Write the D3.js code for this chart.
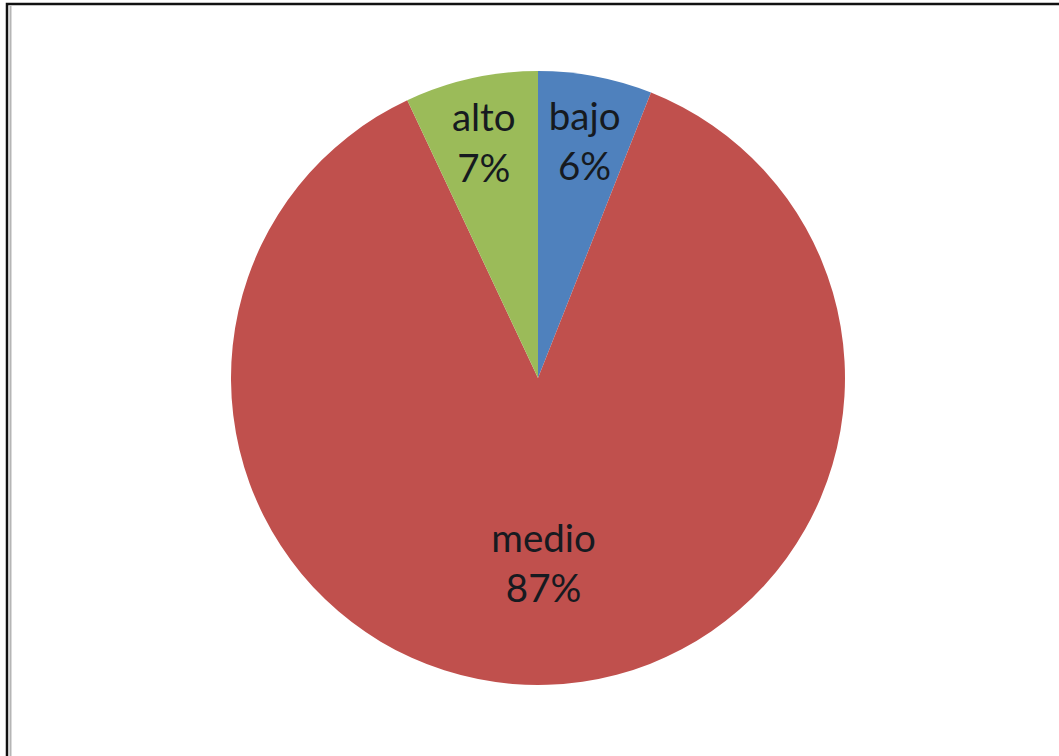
<!DOCTYPE html>
<html>
<head>
<meta charset="utf-8">
<script src="https://cdn.jsdelivr.net/npm/d3@7"></script>
<style>
  html, body { margin: 0; padding: 0; background: #fff; }
  svg { display: block; }
</style>
</head>
<body>
<svg id="chart" width="1059" height="756"></svg>
<script>
// Share of cases by level (percent)
const categories = ["bajo", "medio", "alto"];
const values = [6, 87, 7];
const colors = ["#4F81BD", "#C0504D", "#9BBB59"];
// how far out each label sits, as a fraction of the radius
const labelRadius = [0.81, 0.58, 0.81];

const width = 1059, height = 756;
const svg = d3.select("#chart");

// frame around the chart area
svg.append("rect").attr("x", 7).attr("y", 4).attr("width", 1070).attr("height", 760)
  .attr("fill", "none").attr("stroke", "#111").attr("stroke-width", 2.5);
svg.append("line").attr("x1", 10.5).attr("x2", 10.5).attr("y1", 6).attr("y2", 756)
  .attr("stroke", "#b5b5b5").attr("stroke-width", 2);

const cx = 538, cy = 378, R = 307;
const data = categories.map((c, i) => ({ name: c, value: values[i], color: colors[i], lr: labelRadius[i] }));

const pie = d3.pie().value(d => d.value).sort(null);
const arc = d3.arc().innerRadius(0).outerRadius(R);
const arcs = pie(data);

const g = svg.append("g").attr("transform", `translate(${cx},${cy})`);

g.selectAll("path.slice").data(arcs).join("path")
  .attr("class", "slice")
  .attr("d", arc)
  .attr("fill", d => d.data.color);

const labels = g.selectAll("text.lbl").data(arcs).join("text")
  .attr("class", "lbl")
  .attr("transform", d => {
    const la = d3.arc().innerRadius(R * d.data.lr).outerRadius(R * d.data.lr);
    const [x, y] = la.centroid(d);
    return `translate(${x},${y})`;
  })
  .attr("text-anchor", "middle")
  .attr("font-family", "Lato, 'Noto Sans', sans-serif")
  .attr("font-size", 38.5)
  .attr("fill", "#161a20");

labels.append("tspan").attr("x", 0).attr("dy", "-0.1em").text(d => d.data.name);
labels.append("tspan").attr("x", 0).attr("dy", "1.3em").text(d => d.data.value + "%");
</script>
</body>
</html>
